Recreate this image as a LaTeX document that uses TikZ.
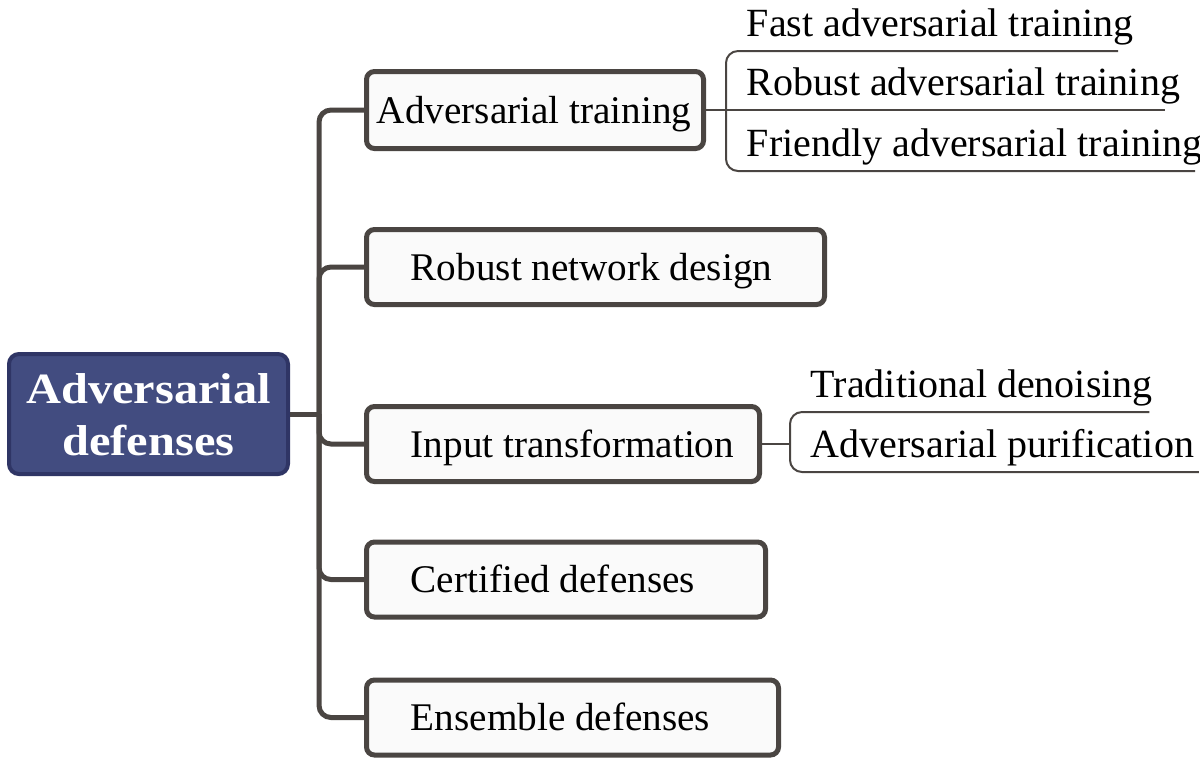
\documentclass[tikz,border=0pt]{standalone}
\usepackage{fontspec}
\setmainfont{Liberation Serif}
\newfontfamily\rootfont[FakeStretch=1.12]{Liberation Serif}
\usepackage{xcolor}
\usetikzlibrary{positioning}
\definecolor{rootblue}{HTML}{424C80}
\definecolor{rootedge}{HTML}{2F3565}
\definecolor{linegray}{HTML}{4A4542}
\definecolor{boxfill}{HTML}{FAFAFA}

\begin{document}
\begin{tikzpicture}[x=0.25pt,y=-0.25pt,
  root/.style={draw=rootedge,fill=rootblue,line width=1pt,rounded corners=2.5pt,
    text=white,font=\rootfont\fontsize{10.8}{13}\selectfont\bfseries,align=center,
    minimum width=69.75pt,minimum height=30pt,inner sep=0pt},
  branch/.style={draw=linegray,fill=boxfill,line width=1.25pt,rounded corners=2pt,
    anchor=west,inner sep=0pt,minimum height=18.75pt},
  boxtext/.style={font=\fontsize{9.8}{12}\selectfont,inner sep=0pt,
    text height=6.6pt,text depth=0pt},
  leaf/.style={font=\fontsize{10}{12}\selectfont,anchor=south west,
    inner xsep=5pt,inner ysep=3.5pt,text depth=0pt},
  link/.style={draw=linegray,line width=1.25pt,rounded corners=3pt},
  sublink/.style={draw=linegray,line width=0.5pt,rounded corners=3pt}]
  \useasboundingbox (0,0) rectangle (1200,776);

  \node[root,text depth=-0.75pt] (root) at (148.5,414) {Adversarial\\defenses};

  \node[branch,minimum width=84.25pt,minimum height=19.25pt] (b1) at (364,110) {};
  \node[branch,minimum width=114.5pt] (b2) at (364,267) {};
  \node[branch,minimum width=98.25pt] (b3) at (364,444) {};
  \node[branch,minimum width=99.75pt] (b4) at (364,579.5) {};
  \node[branch,minimum width=103pt] (b5) at (364,717.5) {};

  \node[boxtext,right=3pt of b1.west] (t1) {Adversarial training};
  \node[boxtext,right=11.5pt of b2.west] (t2) {Robust network design};
  \node[boxtext,right=11.5pt of b3.west] (t3) {Input transformation};
  \node[boxtext,right=11.5pt of b4.west] (t4) {Certified defenses};
  \node[boxtext,right=11.5pt of b5.west] (t5) {Ensemble defenses};

  \coordinate (tr) at (319,414);
  \draw[link] (root.east) -- (tr);
  \draw[link] (b1.west) -| (tr) |- (b5.west);
  \draw[link] (b2.west) -| (tr);
  \draw[link] (b3.west) -| (tr);
  \draw[link] (b4.west) -| (tr);

  % sub-branches
  \node[leaf] (a1) at (726,51) {Fast adversarial training};
  \node[leaf] (a2) at (726,110) {Robust adversarial training};
  \node[leaf] (a3) at (726,171) {Friendly adversarial training};
  \draw[sublink] (b1.east) -- ([xshift=-9pt]a2.south east);
  \draw[sublink] ([xshift=-9pt]a1.south east) -| (a3.south west) -- ([xshift=-7pt]a3.south east);

  \node[leaf] (i1) at (790,412) {Traditional denoising};
  \node[leaf] (i2) at (790,472) {Adversarial purification};
  \draw[sublink] (b3.east) -- (b3.east -| i1.south west);
  \draw[sublink] ([xshift=-6pt]i1.south east) -| (i2.south west) -- ([xshift=-4pt]i2.south east);
\end{tikzpicture}
\end{document}
